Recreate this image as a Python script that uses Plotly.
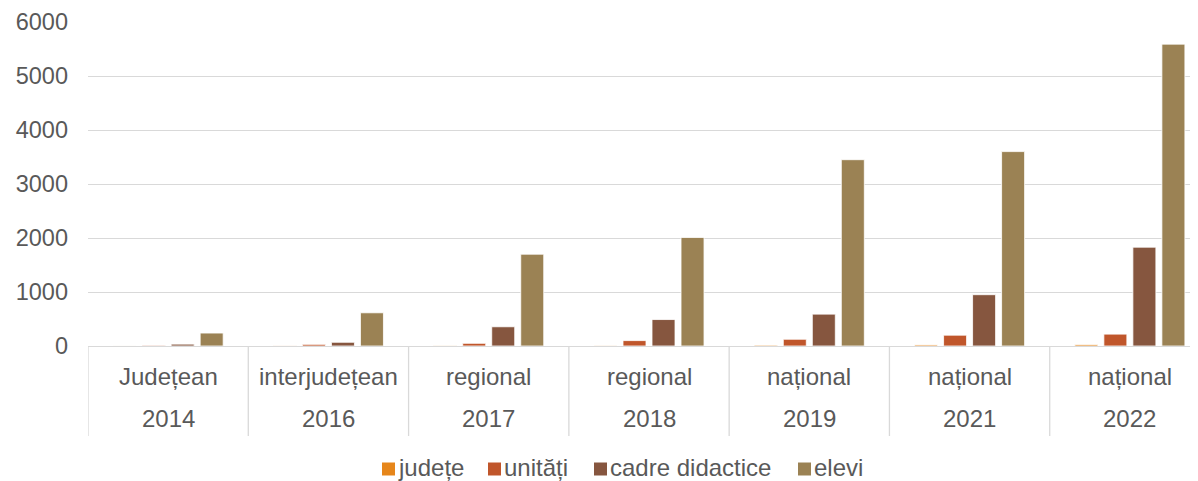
import plotly.graph_objects as go

years = ["2014", "2016", "2017", "2018", "2019", "2021", "2022"]
levels = ["Județean", "interjudețean", "regional", "regional", "național", "național", "național"]

judete = [1, 3, 5, 8, 15, 20, 25]
unitati = [12, 31, 50, 100, 125, 200, 220]
cadre = [35, 69, 356, 490, 590, 950, 1830]
elevi = [240, 615, 1700, 2010, 3450, 3600, 5590]

series_names = ["județe", "unități", "cadre didactice", "elevi"]
series_values = [judete, unitati, cadre, elevi]
colors = ["#E6861A", "#C0562B", "#86563F", "#9B8254"]

# page body has an 8px margin, so the figure sits at (8, 8) in the window
OFF = 8
W, H = 1198 - OFF, 481 - OFF
L, R, T, B = 88 - OFF, 0, 22 - OFF, 481 - 346
PW, PH = W - L - R, H - T - B

def px_x(p):
    return (p - OFF - L) / PW

def px_y(p):
    return (H - B - (p - OFF)) / PH

font_color = "#595959"
grid_color = "#D9D9D9"
FAM = "Liberation Sans, Arial, sans-serif"

fig = go.Figure()
for name, vals, color in zip(series_names, series_values, colors):
    fig.add_trace(go.Bar(
        x=years, y=vals, name=name, showlegend=False,
        marker=dict(color=color, line=dict(color="white", width=0.8)),
    ))

annotations = []
shapes = []
# two-row category labels
for i, (yr, lv) in enumerate(zip(years, levels)):
    annotations.append(dict(x=i, xref="x", y=px_y(376), yref="paper", text=lv,
                            showarrow=False, xanchor="center", yanchor="middle",
                            font=dict(family=FAM, size=24, color=font_color)))
    annotations.append(dict(x=i, xref="x", y=px_y(418), yref="paper", text=yr,
                            showarrow=False, xanchor="center", yanchor="middle",
                            font=dict(family=FAM, size=24, color=font_color)))
# dividers between categories
for i in range(len(years) + 1):
    shapes.append(dict(type="line", xref="x", yref="paper", x0=i - 0.5, x1=i - 0.5,
                       y0=0, y1=px_y(436), line=dict(color=grid_color, width=1.3)))

# legend (manual)
leg_sq_x = [382, 488, 594, 798]
for sx, name, color in zip(leg_sq_x, series_names, colors):
    shapes.append(dict(type="rect", xref="paper", yref="paper",
                       x0=px_x(sx), x1=px_x(sx + 13), y0=px_y(475.5), y1=px_y(462.5),
                       fillcolor=color, line=dict(width=0)))
    annotations.append(dict(x=px_x(sx + 14), xref="paper", y=px_y(468), yref="paper",
                            text=name, showarrow=False, xanchor="left", yanchor="middle",
                            font=dict(family=FAM, size=24, color=font_color)))

fig.update_layout(
    width=W, height=H,
    margin=dict(l=L, r=R, t=T, b=B, autoexpand=False),
    paper_bgcolor="white", plot_bgcolor="white",
    barmode="group", bargap=0.276, bargroupgap=0.207,
    font=dict(family=FAM, size=24, color=font_color),
    showlegend=False,
    xaxis=dict(
        type="category", range=[-0.5, 6.425],
        showline=True, linecolor=grid_color, linewidth=1.3,
        showticklabels=False, ticks="", showgrid=False, zeroline=False,
    ),
    yaxis=dict(
        range=[0, 6000], dtick=1000,
        showgrid=True, gridcolor=grid_color, gridwidth=1.3,
        zeroline=False, showline=False,
        tickfont=dict(family=FAM, size=23.5, color=font_color),
        ticks="", ticklabelstandoff=19,
    ),
    annotations=annotations,
    shapes=shapes,
)

fig.write_html("out.html")
